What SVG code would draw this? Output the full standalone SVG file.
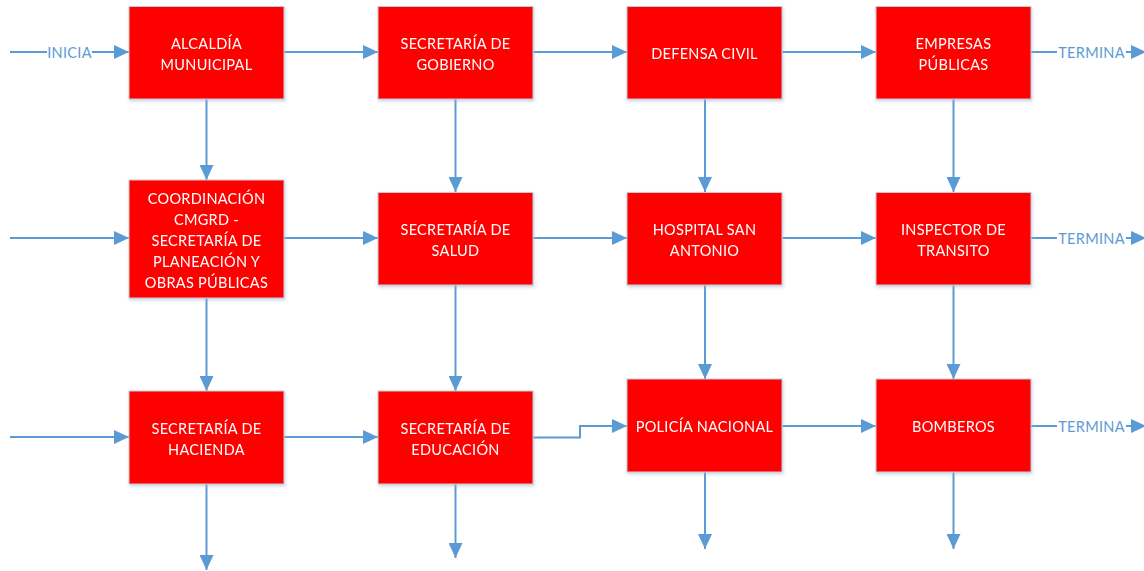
<svg xmlns="http://www.w3.org/2000/svg" width="1144" height="571" viewBox="0 0 1144 571">
<style>
.box{fill:#ff0000;stroke:#c9ccd6;stroke-width:1}
.bt{fill:#ffffff;font-family:Lato,"Liberation Sans",sans-serif;font-size:14.5px;text-anchor:middle;dominant-baseline:central;letter-spacing:0.3px}
.lt{fill:#5b9bd5;font-family:Lato,"Liberation Sans",sans-serif;font-size:14.5px;text-anchor:middle;dominant-baseline:central;letter-spacing:0.3px}
.c{fill:none;stroke:#5b9bd5;stroke-width:2}
.a{marker-end:url(#ah)}
</style>
<defs>
<marker id="ah" viewBox="0 0 15 14" refX="15" refY="7" markerWidth="15" markerHeight="14" markerUnits="userSpaceOnUse" orient="auto">
<path d="M0,0 L15,7 L0,14 z" fill="#5b9bd5"/>
</marker>
<filter id="sh" x="-10%" y="-10%" width="120%" height="125%">
<feDropShadow dx="1" dy="2" stdDeviation="1.5" flood-color="#9db3cf" flood-opacity="0.5"/>
</filter>
</defs>
<g id="connectors">
<path class="c" d="M10,52 H47"/>
<path class="c a" d="M92,52 H129"/>
<text class="lt" x="69.5" y="52">INICIA</text>
<path class="c a" d="M284,52 H378"/>
<path class="c a" d="M533,52 H627"/>
<path class="c a" d="M782,52 H876"/>
<path class="c" d="M1031,52 H1057"/>
<path class="c a" d="M1126,52 H1146"/>
<text class="lt" x="1091.5" y="52">TERMINA</text>

<path class="c a" d="M10,238 H129"/>
<path class="c a" d="M284,238 H378"/>
<path class="c a" d="M533,238 H627"/>
<path class="c a" d="M782,238 H876"/>
<path class="c" d="M1031,238 H1057"/>
<path class="c a" d="M1126,238 H1146"/>
<text class="lt" x="1091.5" y="238">TERMINA</text>

<path class="c a" d="M10,437 H129"/>
<path class="c a" d="M284,437 H378"/>
<path class="c a" d="M533,437.5 H580 V426 H627"/>
<path class="c a" d="M782,426 H876"/>
<path class="c" d="M1031,426 H1057"/>
<path class="c a" d="M1126,426 H1146"/>
<text class="lt" x="1091.5" y="426">TERMINA</text>

<path class="c a" d="M206.5,99 V180"/>
<path class="c a" d="M206.5,298 V391"/>
<path class="c a" d="M206.5,484 V570"/>
<path class="c a" d="M455.5,99 V192"/>
<path class="c a" d="M455.5,285 V391"/>
<path class="c a" d="M455.5,484 V558"/>
<path class="c a" d="M705,99 V192"/>
<path class="c a" d="M705,285 V379"/>
<path class="c a" d="M705,472 V549"/>
<path class="c a" d="M953.5,99 V192"/>
<path class="c a" d="M953.5,285 V379"/>
<path class="c a" d="M953.5,472 V549"/>
</g>
<g id="alcaldia" filter="url(#sh)"><rect class="box" x="129" y="6.5" width="155" height="92.5"/><text class="bt" x="206.5" y="43">ALCALDÍA</text><text class="bt" x="206.5" y="64">MUNUICIPAL</text></g>
<g id="sec-gobierno" filter="url(#sh)"><rect class="box" x="378" y="6.5" width="155" height="92.5"/><text class="bt" x="455.5" y="43">SECRETARÍA DE</text><text class="bt" x="455.5" y="64">GOBIERNO</text></g>
<g id="defensa-civil" filter="url(#sh)"><rect class="box" x="627" y="6.5" width="155" height="92.5"/><text class="bt" x="704.5" y="53">DEFENSA CIVIL</text></g>
<g id="empresas-publicas" filter="url(#sh)"><rect class="box" x="876" y="6.5" width="155" height="92.5"/><text class="bt" x="953.5" y="43">EMPRESAS</text><text class="bt" x="953.5" y="64">PÚBLICAS</text></g>

<g id="coordinacion" filter="url(#sh)"><rect class="box" x="129" y="180" width="155" height="118"/><text class="bt" x="206.5" y="198">COORDINACIÓN</text><text class="bt" x="206.5" y="219">CMGRD -</text><text class="bt" x="206.5" y="240">SECRETARÍA DE</text><text class="bt" x="206.5" y="261">PLANEACIÓN Y</text><text class="bt" x="206.5" y="282">OBRAS PÚBLICAS</text></g>
<g id="sec-salud" filter="url(#sh)"><rect class="box" x="378" y="192.5" width="155" height="92.5"/><text class="bt" x="455.5" y="229">SECRETARÍA DE</text><text class="bt" x="455.5" y="250">SALUD</text></g>
<g id="hospital" filter="url(#sh)"><rect class="box" x="627" y="192.5" width="155" height="92.5"/><text class="bt" x="704.5" y="229">HOSPITAL SAN</text><text class="bt" x="704.5" y="250">ANTONIO</text></g>
<g id="inspector" filter="url(#sh)"><rect class="box" x="876" y="192.5" width="155" height="92.5"/><text class="bt" x="953.5" y="229">INSPECTOR DE</text><text class="bt" x="953.5" y="250">TRANSITO</text></g>

<g id="sec-hacienda" filter="url(#sh)"><rect class="box" x="129" y="391" width="155" height="93"/><text class="bt" x="206.5" y="428">SECRETARÍA DE</text><text class="bt" x="206.5" y="449">HACIENDA</text></g>
<g id="sec-educacion" filter="url(#sh)"><rect class="box" x="378" y="391" width="155" height="93"/><text class="bt" x="455.5" y="428">SECRETARÍA DE</text><text class="bt" x="455.5" y="449">EDUCACIÓN</text></g>
<g id="policia" filter="url(#sh)"><rect class="box" x="627" y="379" width="155" height="93"/><text class="bt" x="704.5" y="426">POLICÍA NACIONAL</text></g>
<g id="bomberos" filter="url(#sh)"><rect class="box" x="876" y="379" width="155" height="93"/><text class="bt" x="953.5" y="426">BOMBEROS</text></g>
</svg>
